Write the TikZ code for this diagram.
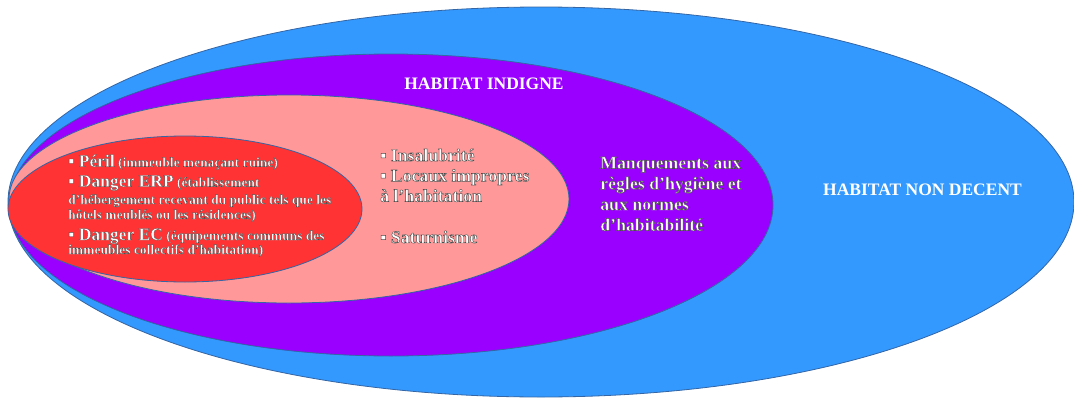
\documentclass[tikz,border=0pt]{standalone}
\usepackage{fontspec}
\setmainfont{Liberation Serif}
\definecolor{nondecent}{HTML}{3399FF}
\definecolor{indigne}{HTML}{9900FF}
\definecolor{insalub}{HTML}{FF9999}
\definecolor{peril}{HTML}{FF3333}
\definecolor{edge}{HTML}{3465A4}
\newcommand{\halo}[1][0.45]{\special{pdf:literal direct 2 Tr #1 w 0.3 0.3 0.3 RG}}
\newcommand{\nohalo}{\special{pdf:literal direct 0 Tr}}
\newcommand{\grand}[1]{{\fontsize{17.5}{20}\selectfont #1}}
\newcommand{\serre}{\lineskiplimit=-50pt\relax}
\tikzset{
  zone/.style={draw=edge, line width=0.8pt},
  titre/.style={text=white, font=\bfseries\fontsize{17.5}{20}\selectfont, inner sep=0pt, anchor=base},
  liste/.style={text=white, align=left, inner sep=0pt, anchor=base west},
}
\begin{document}
\begin{tikzpicture}[x=1pt,y=-1pt]
\useasboundingbox (0,0) rectangle (1074,399);
% les quatre zones
\draw [zone, fill=nondecent] (541,202) ellipse [x radius=533, y radius=195];
\draw [zone, fill=indigne] (391,205) ellipse [x radius=382, y radius=151];
\draw [zone, fill=insalub] (289,199) ellipse [x radius=280, y radius=104];
\draw [zone, fill=peril] (185,209) ellipse [x radius=177, y radius=73];
% titres
\node [titre] (nd) at (922.5,195) {HABITAT NON DECENT};
\node [titre] (ind) at (484,89.3) {HABITAT INDIGNE};
% textes (ancre = ligne de base de la derniere ligne)
\node [liste, font=\bfseries\fontsize{17.8}{20.7}\selectfont] (manq) at (600,230.7)
  {\halo Manquements aux\\règles d’hygiène et\\aux normes\\d’habitabilité\nohalo};
\node [liste, font=\bfseries\fontsize{17.7}{20.3}\selectfont] (insal) at (380,243)
  {\halo ▪ Insalubrité\\▪ Locaux impropres\\à l’habitation\\[21pt]▪ Saturnisme\nohalo};
\node [liste, font=\bfseries\fontsize{13.5}{15}\selectfont\serre] (peril) at (68,254)
  {\halo[0.3]\grand{▪ Péril} (immeuble menaçant ruine)\\[5pt]
   \grand{▪ Danger ERP} (établissement\\[2.3pt]
   d’hébergement recevant du public tels que les\\
   hôtels meublés ou les résidences)\\[6pt]
   \grand{▪ Danger EC} (équipements communs des\\[-1pt]
   immeubles collectifs d’habitation)\nohalo};
\end{tikzpicture}
\end{document}
